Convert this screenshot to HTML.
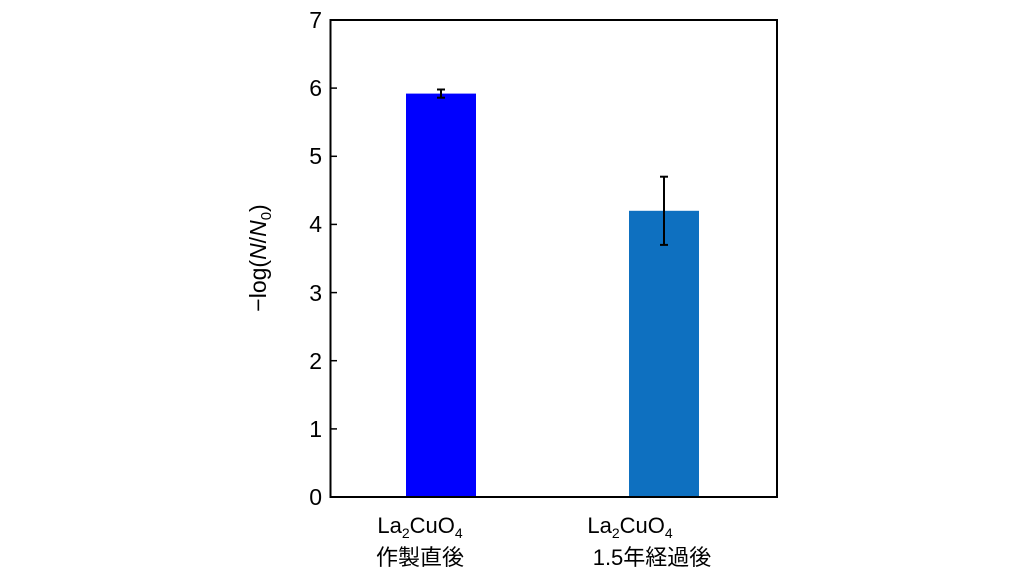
<!DOCTYPE html>
<html><head><meta charset="utf-8"><style>
body{margin:0;background:#fff;}
svg text{font-family:"Liberation Sans","Noto Sans CJK JP",sans-serif;fill:#000;}
</style></head><body>
<svg width="1024" height="576" viewBox="0 0 1024 576" xmlns="http://www.w3.org/2000/svg">
<rect width="1024" height="576" fill="#fff"/>
<rect x="406" y="93.6" width="70" height="403.4" fill="#0000ff"/>
<rect x="629" y="210.8" width="70" height="286.2" fill="#0e70c0"/>
<g stroke="#000" stroke-width="2">
<line x1="441" y1="89.5" x2="441" y2="97.7"/><line x1="437" y1="89.5" x2="445" y2="89.5"/><line x1="437" y1="97.7" x2="445" y2="97.7"/>
<line x1="664" y1="176.7" x2="664" y2="244.9"/><line x1="660" y1="176.7" x2="668" y2="176.7"/><line x1="660" y1="244.9" x2="668" y2="244.9"/>
</g>
<rect x="330.5" y="20" width="446.5" height="477" fill="none" stroke="#000" stroke-width="2"/>
<g stroke="#000" stroke-width="1.5">
<line x1="330" y1="428.9" x2="337" y2="428.9"/><line x1="330" y1="360.7" x2="337" y2="360.7"/><line x1="330" y1="292.6" x2="337" y2="292.6"/><line x1="330" y1="224.4" x2="337" y2="224.4"/><line x1="330" y1="156.3" x2="337" y2="156.3"/><line x1="330" y1="88.1" x2="337" y2="88.1"/>
</g>
<g font-size="23" text-anchor="end">
<text x="322" y="505">0</text><text x="322" y="437">1</text><text x="322" y="369">2</text><text x="322" y="301">3</text><text x="322" y="232">4</text><text x="322" y="164">5</text><text x="322" y="96">6</text><text x="322" y="28">7</text>
</g>
<text transform="translate(266,258) rotate(-90)" font-size="23" text-anchor="middle">−log(<tspan font-style="italic">N</tspan>/<tspan font-style="italic">N</tspan><tspan font-size="15" dy="5">0</tspan><tspan dy="-5">)</tspan></text>
<g font-size="22" text-anchor="middle">
<text x="420" y="533">La<tspan font-size="14" dy="5">2</tspan><tspan dy="-5">CuO</tspan><tspan font-size="14" dy="5">4</tspan></text>
<text x="420" y="565">作製直後</text>
<text x="630" y="533">La<tspan font-size="14" dy="5">2</tspan><tspan dy="-5">CuO</tspan><tspan font-size="14" dy="5">4</tspan></text>
<text x="652" y="565">1.5年経過後</text>
</g>
</svg>
</body></html>
